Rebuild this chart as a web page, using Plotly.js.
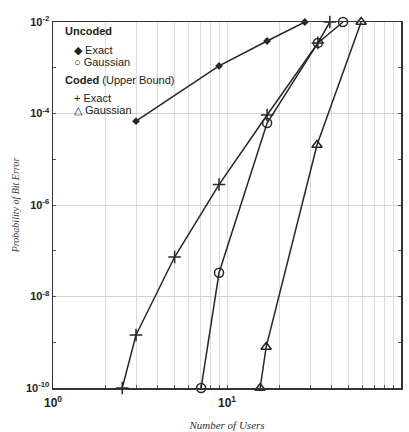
<!DOCTYPE html>
<html>
<head>
<meta charset="utf-8">
<script src="https://cdn.plot.ly/plotly-3.0.1.min.js"></script>
<style>html,body{margin:0;padding:0;background:#fff;}#chart{width:409px;height:432px;}</style>
</head>
<body>
<div id="chart"></div>
<script>
// Data
const uncodedExactX = [3, 9, 17, 28];
const uncodedExactY = [6.8e-5, 1.1e-3, 3.85e-3, 1e-2];
const uncodedGaussX = [7.1, 9, 17, 33.3, 46.4];
const uncodedGaussY = [1e-10, 3.3e-8, 6.2e-5, 3.5e-3, 1e-2];
const codedExactX = [2.5, 3, 5, 9, 17, 33.3, 39];
const codedExactY = [1e-10, 1.44e-9, 7.3e-8, 2.8e-6, 9.3e-5, 3.5e-3, 1e-2];
const codedGaussX = [15.5, 16.8, 32.9, 59];
const codedGaussY = [1e-10, 7.9e-10, 2.05e-5, 1e-2];

const xTickVals = [1,2,3,4,5,6,7,8,9,10,20,30,40,50,60,70,80,90,100];
const xTickText = xTickVals.map(v => v === 1 ? '10<sup>0</sup>' : v === 10 ? '10<sup>1</sup>' : v === 100 ? '10<sup>2</sup>' : '');
const yTickVals = [1e-10, 1e-8, 1e-6, 1e-4, 1e-2];
const yTickText = ['10<sup>-10</sup>', '10<sup>-8</sup>', '10<sup>-6</sup>', '10<sup>-4</sup>', '10<sup>-2</sup>'];
const yMinorVals = [1e-9, 1e-7, 1e-5, 1e-3];

// Legend texts
const legendGroups = ['Uncoded', 'Coded'];
const legendItems = ['\u25C6 Exact', '\u25CB Gaussian', '+ Exact', '\u25B3 Gaussian'];

const lineStyle = {color: '#262626', width: 1.5};
const mk = {
  exactU: {symbol: 'diamond', size: 6, color: '#262626'},
  gaussU: {symbol: 'circle-open', size: 9, color: '#262626', line: {width: 1.5}},
  exactC: {symbol: 'cross-thin-open', size: 9, color: '#262626', line: {width: 1.5, color: '#262626'}},
  gaussC: {symbol: 'triangle-up-open', size: 9, color: '#262626', line: {width: 1.5}}
};

const traces = [
  {x: uncodedExactX, y: uncodedExactY, mode: 'lines+markers', line: lineStyle, marker: mk.exactU, cliponaxis: false},
  {x: uncodedGaussX, y: uncodedGaussY, mode: 'lines+markers', line: lineStyle, marker: mk.gaussU, cliponaxis: false},
  {x: codedExactX, y: codedExactY, mode: 'lines+markers', line: lineStyle, marker: mk.exactC, cliponaxis: false},
  {x: codedGaussX, y: codedGaussY, mode: 'lines+markers', line: lineStyle, marker: mk.gaussC, cliponaxis: false}
];

function px2x(p) { return (p - 53) / 348; }
function py2y(p) { return 1 - (p - 22) / 366; }
const annBase = {xref: 'paper', yref: 'paper', xanchor: 'left', yanchor: 'middle', showarrow: false,
  font: {family: 'Liberation Sans, Arial, sans-serif', size: 11, color: '#222'}};
const annotations = [
  Object.assign({}, annBase, {x: px2x(63), y: py2y(31), text: '<b>' + legendGroups[0] + '</b>'}),
  Object.assign({}, annBase, {x: px2x(72), y: py2y(50), text: legendItems[0]}),
  Object.assign({}, annBase, {x: px2x(72), y: py2y(62), text: legendItems[1]}),
  Object.assign({}, annBase, {x: px2x(63), y: py2y(80), text: '<b>' + legendGroups[1] + '</b> (Upper Bound)'}),
  Object.assign({}, annBase, {x: px2x(72), y: py2y(98), text: legendItems[2]}),
  Object.assign({}, annBase, {x: px2x(72), y: py2y(110), text: legendItems[3]})
];

const layout = {
  width: 409, height: 432,
  margin: {l: 53, r: 8, t: 22, b: 44},
  paper_bgcolor: '#fff', plot_bgcolor: '#fff',
  font: {family: 'Liberation Sans, Arial, sans-serif', color: '#333', size: 11},
  showlegend: false,
  annotations: annotations,
  xaxis: {
    type: 'log', range: [0, 2],
    tickmode: 'array', tickvals: xTickVals, ticktext: xTickText,
    ticks: 'inside', ticklen: 3, tickcolor: '#555',
    showgrid: true, gridcolor: '#dcdcdc', gridwidth: 1,
    showline: true, linecolor: '#333', linewidth: 1.5, mirror: true,
    zeroline: false, ticklabelstandoff: 3,
    tickfont: {size: 12, color: '#222', weight: 'bold'},
    title: {text: 'Number of Users', font: {family: 'Liberation Serif, Times New Roman, serif', style: 'italic', size: 11, color: '#333'}, standoff: 12}
  },
  yaxis: {
    type: 'log', range: [-10, -1.9995],
    tickmode: 'array', tickvals: yTickVals, ticktext: yTickText,
    ticks: 'inside', ticklen: 3, tickcolor: '#555',
    showgrid: true, gridcolor: '#d4d4d4', gridwidth: 1,
    showline: true, linecolor: '#333', linewidth: 1.5, mirror: 'ticks',
    zeroline: false,
    minor: {tickmode: 'array', tickvals: yMinorVals, ticks: 'inside', ticklen: 3, tickcolor: '#555', showgrid: false},
    tickfont: {size: 11, color: '#222', weight: 'bold'},
    title: {text: 'Probability of Bit Error', font: {family: 'Liberation Serif, Times New Roman, serif', style: 'italic', size: 10, color: '#444'}, standoff: 4}
  }
};

Plotly.newPlot('chart', traces, layout, {displayModeBar: false, staticPlot: true});
</script>
</body>
</html>
